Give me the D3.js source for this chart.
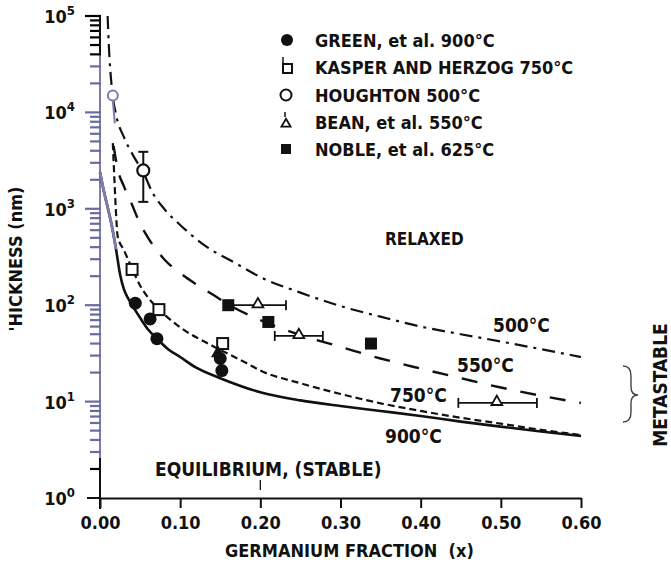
<!DOCTYPE html>
<html>
<head>
  <meta charset="utf-8" />
  <style>
    body { margin: 0; background: #fff; }
    svg text {
      font-family: "DejaVu Sans Condensed", "Liberation Sans", sans-serif;
      font-weight: bold;
      fill: #111;
    }
  </style>
</head>
<body>
  <svg width="671" height="569"></svg>

  <script src="https://cdn.jsdelivr.net/npm/d3@7/dist/d3.min.js"></script>
  <script>
    // ---- data (x = Ge fraction, t = thickness in nm) ----
    var xTicks = [0, 0.1, 0.2, 0.3, 0.4, 0.5, 0.6];
    var xTickLabels = ["0.00", "0.10", "0.20", "0.30", "0.40", "0.50", "0.60"];
    var yDecades = [1, 10, 100, 1000, 10000, 100000];
    var yDecadeExp = ["0", "1", "2", "3", "4", "5"];

    var curve900 = [[0, 2400], [0.005, 1500], [0.01, 1000], [0.015, 650], [0.02, 380], [0.025, 210],
      [0.03, 145], [0.035, 118], [0.04, 100], [0.05, 74], [0.06, 56], [0.071, 45], [0.085, 35],
      [0.1, 29], [0.12, 22.5], [0.15, 17.5], [0.2, 12.5], [0.25, 10.3], [0.3, 9.0], [0.35, 8.0],
      [0.4, 7.1], [0.45, 6.2], [0.5, 5.5], [0.55, 4.9], [0.6, 4.4]];
    var curve750 = [[0.016, 4800], [0.018, 2000], [0.02, 900], [0.022, 520], [0.03, 370], [0.04, 240],
      [0.05, 160], [0.06, 120], [0.075, 88], [0.1, 59], [0.14, 38], [0.183, 25], [0.2, 21],
      [0.25, 15.5], [0.3, 12], [0.35, 9.6], [0.4, 8.0], [0.45, 6.8], [0.5, 5.9], [0.55, 5.1], [0.6, 4.5]];
    var curve550 = [[0.017, 4500], [0.022, 2600], [0.03, 1700], [0.04, 1100], [0.05, 700], [0.06, 500],
      [0.08, 300], [0.1, 215], [0.12, 165], [0.14, 130], [0.16, 102], [0.2, 70], [0.25, 49],
      [0.3, 37], [0.35, 28], [0.4, 22], [0.45, 17.5], [0.5, 14], [0.55, 11.5], [0.6, 9.7]];
    var curve500 = [[0.0095, 100000], [0.011, 50000], [0.015, 17000], [0.02, 9500], [0.03, 5500],
      [0.042, 3500], [0.055, 2300], [0.065, 1500], [0.08, 1000], [0.1, 680], [0.13, 420], [0.17, 270],
      [0.2, 196], [0.25, 135], [0.3, 98], [0.35, 76], [0.4, 60], [0.45, 50], [0.5, 42], [0.55, 35], [0.6, 29]];

    var greenX = [0.044, 0.0625, 0.071, 0.15, 0.152];
    var greenT = [105, 72, 45, 28, 21];
    var kasperX = [0.04, 0.0735, 0.153];
    var kasperT = [235, 90, 40];
    var houghtonX = [0.054];
    var houghtonT = [2500];
    var houghtonLo = [1180];
    var houghtonHi = [3900];
    var houghtonFaintX = [0.016];
    var houghtonFaintT = [15000];
    var beanX = [0.147, 0.197, 0.248, 0.495];
    var beanT = [31, 100, 48, 9.7];
    var beanXLo = [null, 0.16, 0.218, 0.447];
    var beanXHi = [null, 0.232, 0.278, 0.545];
    var nobleX = [0.16, 0.21, 0.338];
    var nobleT = [100, 67, 40];

    var legendLabels = ["GREEN, et al. 900°C", "KASPER AND HERZOG 750°C", "HOUGHTON 500°C",
      "BEAN, et al. 550°C", "NOBLE, et al. 625°C"];

    // ---- setup ----
    var svg = d3.select("svg");
    var faint = "#7d7dab";

    var x = d3.scaleLinear().domain([0, 0.6]).range([100, 581]);
    var y = d3.scaleLog().domain([1, 100000]).range([498, 16]);

    // y axis: minor + decade ticks
    var yTickVals = [];
    for (var dec = 0; dec < 5; dec++) {
      for (var m = 1; m < 10; m++) {
        if (dec === 0 && m === 1) continue;
        yTickVals.push(m * Math.pow(10, dec));
      }
    }
    yTickVals.push(100000);

    svg.append("line").attr("x1", 100).attr("x2", 100)
      .attr("y1", y(100000)).attr("y2", 509).attr("stroke", faint).attr("stroke-width", 2);
    svg.append("g").attr("class", "yticks").selectAll("line").data(yTickVals).enter().append("line")
      .attr("x1", function (d) { return yDecades.indexOf(d) >= 0 ? 85 : 90; })
      .attr("x2", 101)
      .attr("y1", function (d) { return y(d); })
      .attr("y2", function (d) { return y(d); })
      .attr("stroke-width", 2.2)
      .attr("stroke", function (d) { return (d >= 40000 || d <= 2) ? "#000" : "#6a6aa0"; });

    // black pieces of the vertical axis (top and bottom)
    svg.append("line").attr("x1", 100).attr("x2", 100)
      .attr("y1", y(100000)).attr("y2", y(40000)).attr("stroke", "#111").attr("stroke-width", 2);
    svg.append("line").attr("x1", 100).attr("x2", 100)
      .attr("y1", y(2.6)).attr("y2", 509).attr("stroke", "#111").attr("stroke-width", 2);

    // decade labels with superscripts
    var yLab = svg.append("g").selectAll("text").data(yDecades).enter().append("text")
      .attr("x", 75)
      .attr("y", function (d) { return y(d) + 7; })
      .attr("text-anchor", "end")
      .style("font-size", "18px")
      .text("10");
    yLab.append("tspan")
      .attr("dy", -8)
      .style("font-size", "13px")
      .text(function (d, i) { return yDecadeExp[i]; });

    // x axis
    var xAxis = svg.append("g")
      .attr("transform", "translate(0," + y(1) + ")")
      .call(d3.axisBottom(x).tickValues(xTicks).tickSize(10).tickSizeOuter(0)
        .tickFormat(function (d, i) { return xTickLabels[i]; }));
    xAxis.select(".domain").attr("stroke", "#111").attr("stroke-width", 2);
    xAxis.selectAll(".tick line").attr("stroke", "#111").attr("stroke-width", 2);
    xAxis.selectAll(".tick text").attr("y", 31).attr("dy", null)
      .style("font-size", "18px").attr("fill", "#111");
    svg.append("line").attr("x1", 87).attr("x2", 100)
      .attr("y1", y(1)).attr("y2", y(1)).attr("stroke", "#111").attr("stroke-width", 2);
    // small stray mark at 0.20 on the baseline
    svg.append("line").attr("x1", x(0.2)).attr("x2", x(0.2))
      .attr("y1", 480).attr("y2", 490).attr("stroke", "#111").attr("stroke-width", 1.3);

    // ---- curves ----
    var line = d3.line()
      .x(function (d) { return x(d[0]); })
      .y(function (d) { return y(d[1]); })
      .curve(d3.curveMonotoneX);

    function drawCurve(data, dash, width) {
      svg.append("path")
        .attr("d", line(data))
        .attr("fill", "none")
        .attr("stroke", "#111")
        .attr("stroke-width", width)
        .attr("stroke-dasharray", dash);
    }
    drawCurve(curve900, null, 2.6);
    drawCurve(curve750, "7,4", 2.2);
    drawCurve(curve550, "16,14", 2.4);
    drawCurve(curve500, "13,6,3,6", 2.2);

    // faint start of the solid curve next to the axis
    svg.append("path")
      .attr("d", line(curve900.filter(function (d) { return d[0] <= 0.02; })))
      .attr("fill", "none").attr("stroke", faint).attr("stroke-width", 2.8);

    // ---- data points ----
    var pts = svg.append("g");

    // Kasper: open squares
    kasperX.forEach(function (v, i) {
      pts.append("rect")
        .attr("x", x(v) - 5.5).attr("y", y(kasperT[i]) - 5.5)
        .attr("width", 11).attr("height", 11)
        .attr("fill", "#fff").attr("stroke", "#111").attr("stroke-width", 2);
    });

    // Bean: open triangles with horizontal error bars
    beanX.forEach(function (v, i) {
      var cy = y(beanT[i]);
      if (beanXLo[i] !== null) {
        pts.append("line").attr("x1", x(beanXLo[i])).attr("x2", x(beanXHi[i]))
          .attr("y1", cy).attr("y2", cy).attr("stroke", "#111").attr("stroke-width", 1.8);
        [beanXLo[i], beanXHi[i]].forEach(function (b) {
          pts.append("line").attr("x1", x(b)).attr("x2", x(b))
            .attr("y1", cy - 5).attr("y2", cy + 5).attr("stroke", "#111").attr("stroke-width", 1.8);
        });
      }
      pts.append("path")
        .attr("transform", "translate(" + x(v) + "," + (cy - 1) + ")")
        .attr("d", d3.symbol(d3.symbolTriangle, 50)())
        .attr("fill", i === 0 ? "#111" : "#fff").attr("stroke", "#111").attr("stroke-width", 1.8);
    });

    // Green: filled circles
    greenX.forEach(function (v, i) {
      pts.append("circle").attr("cx", x(v)).attr("cy", y(greenT[i])).attr("r", 6.5).attr("fill", "#111");
    });

    // Noble: filled squares
    nobleX.forEach(function (v, i) {
      pts.append("rect")
        .attr("x", x(v) - 6).attr("y", y(nobleT[i]) - 6)
        .attr("width", 12).attr("height", 12).attr("fill", "#111");
    });

    // Houghton: open circle with vertical error bar
    houghtonX.forEach(function (v, i) {
      var cx = x(v);
      pts.append("line").attr("x1", cx).attr("x2", cx)
        .attr("y1", y(houghtonHi[i])).attr("y2", y(houghtonLo[i])).attr("stroke", "#111").attr("stroke-width", 2);
      [houghtonHi[i], houghtonLo[i]].forEach(function (b) {
        pts.append("line").attr("x1", cx - 5).attr("x2", cx + 5)
          .attr("y1", y(b)).attr("y2", y(b)).attr("stroke", "#111").attr("stroke-width", 2);
      });
      pts.append("circle").attr("cx", cx).attr("cy", y(houghtonT[i])).attr("r", 6)
        .attr("fill", "#fff").attr("stroke", "#111").attr("stroke-width", 2.2);
    });
    houghtonFaintX.forEach(function (v, i) {
      var cx = x(v), cy = y(houghtonFaintT[i]);
      pts.append("line").attr("x1", cx).attr("x2", cx + 2).attr("y1", cy + 5).attr("y2", cy + 28)
        .attr("stroke", faint).attr("stroke-width", 2);
      pts.append("circle").attr("cx", cx).attr("cy", cy).attr("r", 5)
        .attr("fill", "#fff").attr("stroke", faint).attr("stroke-width", 2);
    });

    // ---- legend ----
    var legend = svg.append("g");
    var legY = [40, 67, 95, 122, 149];
    legend.selectAll("text").data(legendLabels).enter().append("text")
      .attr("x", 315)
      .attr("y", function (d, i) { return legY[i] + 7; })
      .style("font-size", "18px")
      .text(function (d) { return d; });
    legend.append("circle").attr("cx", 287).attr("cy", legY[0]).attr("r", 6).attr("fill", "#111");
    legend.append("rect").attr("x", 283).attr("y", legY[1] - 3).attr("width", 9).attr("height", 9)
      .attr("fill", "#fff").attr("stroke", "#111").attr("stroke-width", 2);
    legend.append("line").attr("x1", 283).attr("x2", 283).attr("y1", legY[1] - 10).attr("y2", legY[1] - 3)
      .attr("stroke", "#111").attr("stroke-width", 1.5);
    legend.append("circle").attr("cx", 286).attr("cy", legY[2]).attr("r", 5.5)
      .attr("fill", "#fff").attr("stroke", "#111").attr("stroke-width", 2);
    legend.append("path").attr("transform", "translate(286," + (legY[3] + 2) + ")")
      .attr("d", d3.symbol(d3.symbolTriangle, 36)())
      .attr("fill", "#fff").attr("stroke", "#111").attr("stroke-width", 1.8);
    legend.append("line").attr("x1", 285).attr("x2", 285).attr("y1", legY[3] - 10).attr("y2", legY[3] - 5)
      .attr("stroke", "#111").attr("stroke-width", 1.5);
    legend.append("rect").attr("x", 281).attr("y", legY[4] - 5).attr("width", 10).attr("height", 10).attr("fill", "#111");

    // ---- annotations ----
    function label(txt, px, py, size) {
      return svg.append("text").attr("x", px).attr("y", py)
        .style("font-size", size + "px").style("white-space", "pre").text(txt);
    }
    label("RELAXED", 385, 245, 17);
    label("500°C", 493, 332, 19);
    label("550°C", 457, 372, 19);
    label("750°C", 390, 402, 19);
    label("900°C", 385, 443, 19);
    label("EQUILIBRIUM, (STABLE)", 155, 476, 19);
    label("GERMANIUM FRACTION  (x)", 225, 557, 18);

    svg.append("text")
      .attr("transform", "translate(22,259) rotate(-90)")
      .attr("text-anchor", "middle")
      .style("font-size", "18px")
      .text("'HICKNESS (nm)");
    svg.append("text")
      .attr("transform", "translate(667,385) rotate(-90)")
      .attr("text-anchor", "middle")
      .style("font-size", "19px")
      .text("METASTABLE");

    // brace next to METASTABLE
    svg.append("path")
      .attr("d", "M623,366 q8,0 8,10 L631,387 q0,8 7,8 q-7,0 -7,8 L631,412 q0,10 -8,10")
      .attr("fill", "none").attr("stroke", "#444").attr("stroke-width", 1.4);
  </script>
</body>
</html>
